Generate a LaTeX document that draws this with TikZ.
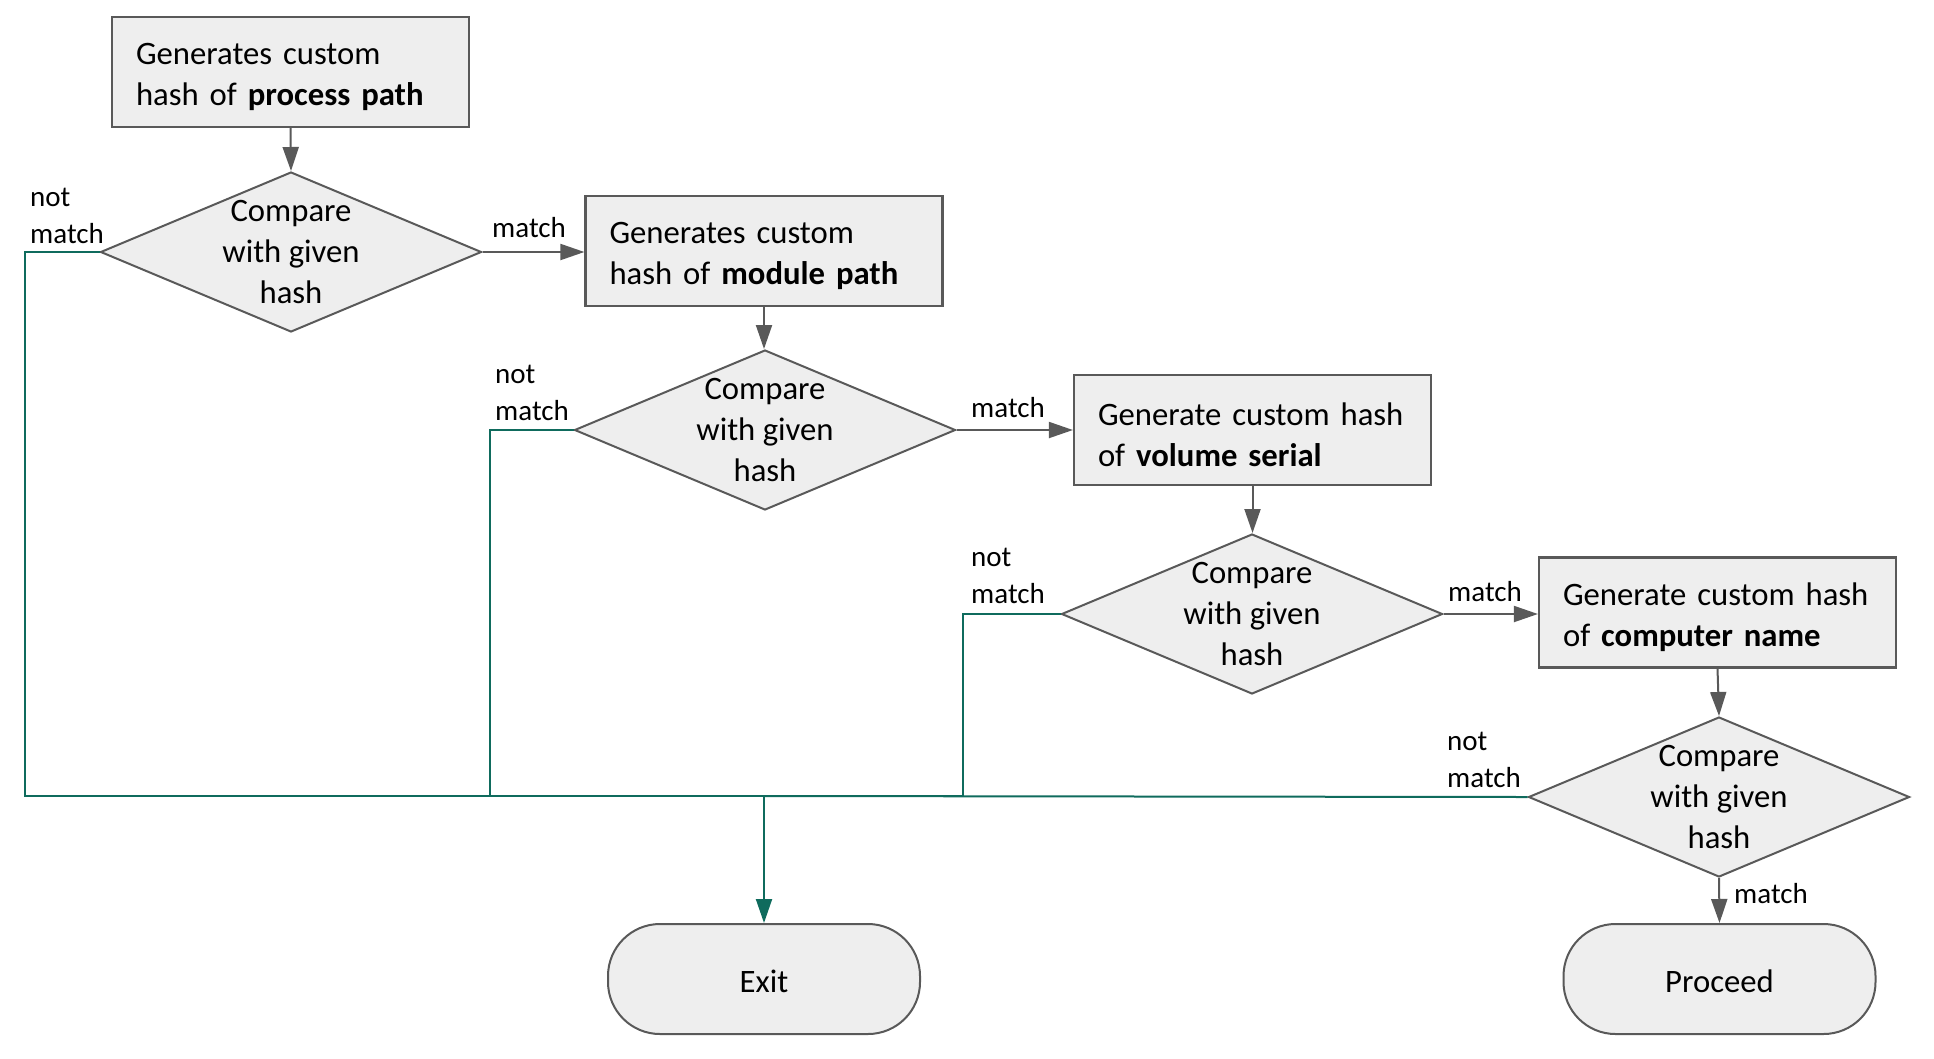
\documentclass[tikz,border=0pt]{standalone}
\usepackage{fontspec}
\setmainfont{Carlito}
\usetikzlibrary{shapes.geometric,arrows.meta}
\definecolor{fillg}{HTML}{EEEEEE}
\definecolor{edge}{HTML}{595959}
\definecolor{teal}{HTML}{0F6B5D}
\newcommand{\upstrut}{\rule{0pt}{32pt}}
\tikzset{
  procbox/.style={draw=edge, line width=2.2pt, fill=fillg, minimum width=357pt, minimum height=110pt,
    text width=309pt, inner xsep=24pt, align=left, font=\fontsize{32.7}{41}\selectfont},
  dia/.style={draw=edge, line width=2pt, fill=fillg, shape=diamond, minimum width=381pt, minimum height=160pt,
    inner sep=0pt, aspect=2.38},
  diatext/.style={align=center, inner sep=0pt, font=\fontsize{32.7}{41}\selectfont},
  term/.style={draw=edge, line width=2pt, fill=fillg, rounded corners=52pt, minimum width=312pt,
    minimum height=110pt, font=\fontsize{32.7}{41}\selectfont},
  lbl/.style={anchor=south west, inner sep=0pt, align=left, font=\fontsize{29}{37}\selectfont},
  ga/.style={draw=edge, line width=2pt, -{Triangle[length=24pt,width=16pt]}},
  tl/.style={draw=teal, line width=2pt},
  ta/.style={draw=teal, line width=2pt, -{Triangle[length=24pt,width=16pt]}, color=teal},
}
\begin{document}
\begin{tikzpicture}[x=1pt,y=-1pt]
\useasboundingbox (0,0) rectangle (1934,1058);
% boxes
\node[procbox] (b1) at (290.5,72) {\upstrut Generates custom\\hash of \textbf{process path}};
\node[procbox] (b2) at (764,251) {\upstrut Generates custom\\hash of \textbf{module path}};
\node[procbox] (b3) at (1252.5,430) {\upstrut Generate custom hash\\of \textbf{volume serial}};
\node[procbox] (b4) at (1717.5,612.5) {\upstrut Generate custom hash\\of \textbf{computer name}};
% diamonds
\node[dia] (d1) at (291,252) {};
\node[dia] (d2) at (765,430) {};
\node[dia] (d3) at (1252,614) {};
\node[dia] (d4) at (1719,797) {};
\foreach \d in {d1,d2,d3,d4} {\node[diatext] at (\d) {Compare\\with given\\hash};}
% terminals
\node[term] (exit) at (764,979) {\rule{0pt}{27pt}Exit};
\node[term] (proc) at (1719.5,979) {\rule{0pt}{27pt}Proceed};
% gray arrows
\draw[ga] (b1.south) -- (d1.north);
\draw[ga] (d1.east) -- (d1.east -| b2.west);
\draw[ga] (b2.south) -- (b2.south |- d2.north);
\draw[ga] (d2.east) -- (d2.east -| b3.west);
\draw[ga] (b3.south) -- (b3.south |- d3.north);
\draw[ga] (d3.east) -- (d3.east -| b4.west);
\draw[ga] (b4.south) -- (d4.north);
\draw[ga] (d4.south) -- (proc.north);
% not-match lines
\coordinate (m) at (764,796);
\coordinate (c1) at (25,252);
\coordinate (c2) at (490,430);
\coordinate (c3) at (963,614);
\draw[tl] (d1.west) -- (c1) |- (m);
\draw[tl] (d2.west) -- (c2) |- (m);
\draw[tl] (d3.west) -- (c3) |- (m);
\draw[tl] (d4.west) -- (m);
\draw[ta] (m) -- (exit.north);
% labels
\node[lbl] (l1) at (30,244) {not\\match};
\node[lbl] (l2) at (492,238) {match};
\node[lbl] (l3) at (495,421) {not\\match};
\node[lbl] (l4) at (971,418) {match};
\node[lbl] (l5) at (971,604) {not\\match};
\node[lbl] (l6) at (1448,602) {match};
\node[lbl] (l7) at (1447,788) {not\\match};
\node[lbl] (l8) at (1734,904) {match};
\end{tikzpicture}
\end{document}
